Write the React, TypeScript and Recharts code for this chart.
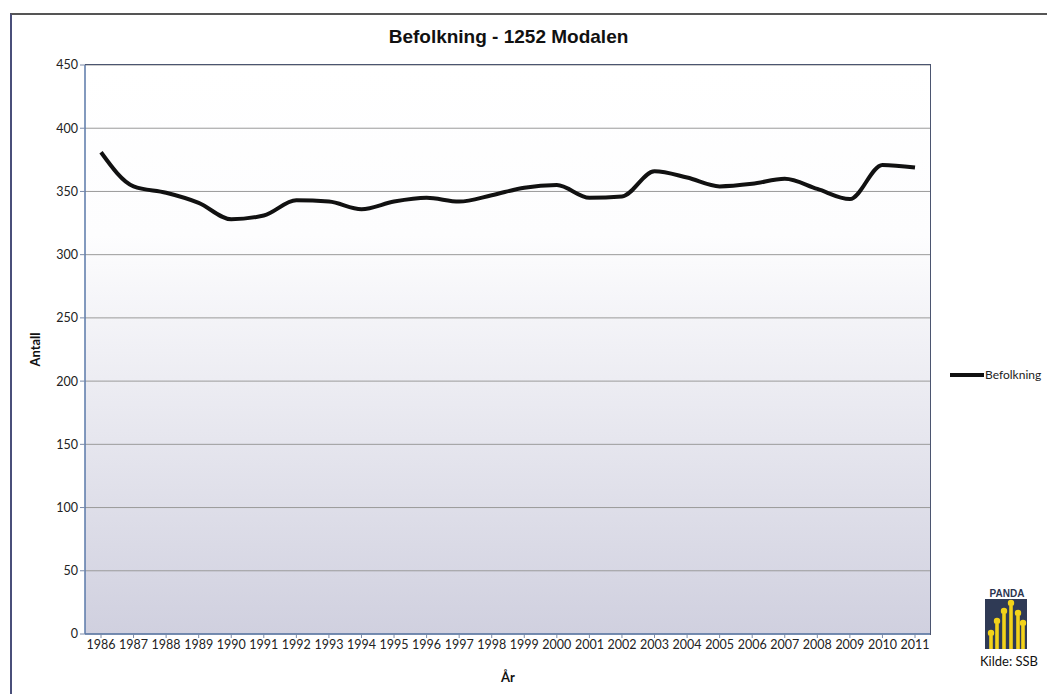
import React from 'react';
import { LineChart, Line, XAxis, YAxis, CartesianGrid } from 'recharts';

// Befolkning per år, 1252 Modalen
const years = [
  '1986', '1987', '1988', '1989', '1990', '1991', '1992', '1993', '1994',
  '1995', '1996', '1997', '1998', '1999', '2000', '2001', '2002', '2003',
  '2004', '2005', '2006', '2007', '2008', '2009', '2010', '2011',
];
const befolkning = [
  381, 354, 349, 341, 328, 331, 343, 342, 336,
  342, 345, 342, 347, 353, 355, 345, 346, 366,
  361, 354, 356, 360, 352, 344, 371, 369,
];
const yTicks = [0, 50, 100, 150, 200, 250, 300, 350, 400, 450];

const data = years.map((y, i) => ({ year: y, Befolkning: befolkning[i] }));

const tickFont = { fontFamily: 'Lato, "Open Sans", sans-serif', fontSize: 12.5, fill: '#222' };

const PandaLogo: React.FC = () => (
  <div style={{ position: 'absolute', left: 980, top: 588, width: 62, textAlign: 'center' }}>
    <div style={{ fontFamily: '"Liberation Sans", Arial, sans-serif', fontWeight: 'bold', fontSize: 10, color: '#2b3550', lineHeight: '11px', marginLeft: -8 }}>
      PANDA
    </div>
    <svg width={42} height={50} style={{ display: 'block', marginLeft: 5 }}>
      <rect x={0} y={0} width={42} height={50} fill="#2f3a55" />
      {[6, 12, 19, 26, 33, 38].map((x, i) => {
        const top = [34, 22, 12, 4, 14, 24][i];
        return (
          <g key={i}>
            <circle cx={x} cy={top} r={3.2} fill="#f2d21a" />
            <rect x={x - 1.8} y={top + 3} width={3.6} height={50 - top - 3} fill="#f2d21a" />
          </g>
        );
      })}
    </svg>
    <div style={{ fontFamily: '"Liberation Sans Narrow", Lato, sans-serif', fontSize: 13, color: '#111', marginTop: 4, marginLeft: -4, whiteSpace: 'nowrap' }}>
      Kilde: SSB
    </div>
  </div>
);

const App: React.FC = () => {
  return (
    <div style={{ position: 'absolute', left: 0, top: 0, width: 1047, height: 694, background: '#fff', overflow: 'hidden' }}>
      {/* ytre ramme */}
      <div style={{ position: 'absolute', left: 10, top: 13, width: 1060, height: 700, borderTop: '2px solid #555', borderLeft: '2px solid #4a4f7a' }} />

      <div style={{ position: 'absolute', left: 0, top: 26, width: 1017, textAlign: 'center', fontFamily: '"Liberation Sans", Arial, sans-serif', fontWeight: 'bold', fontSize: 19, color: '#111' }}>
        Befolkning - 1252 Modalen
      </div>

      <div style={{ position: 'absolute', left: 0, top: 0 }}>
        <LineChart width={1047} height={694} data={data} margin={{ top: 65, right: 116, bottom: 30, left: 45 }}>
          <defs>
            <linearGradient id="plotBg" x1="0" y1="0" x2="0" y2="1">
              <stop offset="0%" stopColor="#ffffff" />
              <stop offset="30%" stopColor="#fdfdfe" />
              <stop offset="100%" stopColor="#d0d0df" />
            </linearGradient>
          </defs>
          <CartesianGrid vertical={false} stroke="#9a9a9a" strokeWidth={1} fill="url(#plotBg)" fillOpacity={1} />
          <XAxis
            dataKey="year"
            height={30}
            padding={{ left: 16, right: 16 }}
            tick={tickFont}
            tickLine={{ stroke: '#7a8aa8' }}
            tickSize={4}
            axisLine={{ stroke: '#5a78a8', strokeWidth: 1.5 }}
            interval={0}
            label={{ value: 'År', position: 'insideBottom', offset: -18, style: { fontFamily: 'Lato, "Open Sans", sans-serif', fontWeight: 'bold', fontSize: 13, fill: '#111' } }}
          />
          <YAxis
            width={40}
            domain={[0, 450]}
            ticks={yTicks}
            interval={0}
            tick={tickFont}
            tickLine={{ stroke: '#7a8aa8' }}
            tickSize={5}
            axisLine={{ stroke: '#5a78a8', strokeWidth: 1.5 }}
            label={{ value: 'Antall', angle: -90, position: 'insideLeft', offset: -10, style: { fontFamily: 'Lato, "Open Sans", sans-serif', fontWeight: 'bold', fontSize: 13, fill: '#111', textAnchor: 'middle' } }}
          />
          <Line
            type="monotone"
            dataKey="Befolkning"
            stroke="#111"
            strokeWidth={4}
            dot={false}
            activeDot={false}
            isAnimationActive={false}
          />
        </LineChart>
      </div>

      {/* plotramme topp/høyre */}
      <div style={{ position: 'absolute', left: 85, top: 64, width: 845, height: 570, borderTop: '1.5px solid #4b5570', borderRight: '1.5px solid #4b5570', pointerEvents: 'none' }} />

      {/* legende */}
      <div style={{ position: 'absolute', left: 950, top: 367, display: 'flex', alignItems: 'center' }}>
        <svg width={34} height={8}><line x1={0} y1={4} x2={34} y2={4} stroke="#111" strokeWidth={4} /></svg>
        <span style={{ fontFamily: 'Lato, "Open Sans", sans-serif', fontSize: 12, color: '#222', marginLeft: 1 }}>Befolkning</span>
      </div>

      <PandaLogo />
    </div>
  );
};

export default App;
